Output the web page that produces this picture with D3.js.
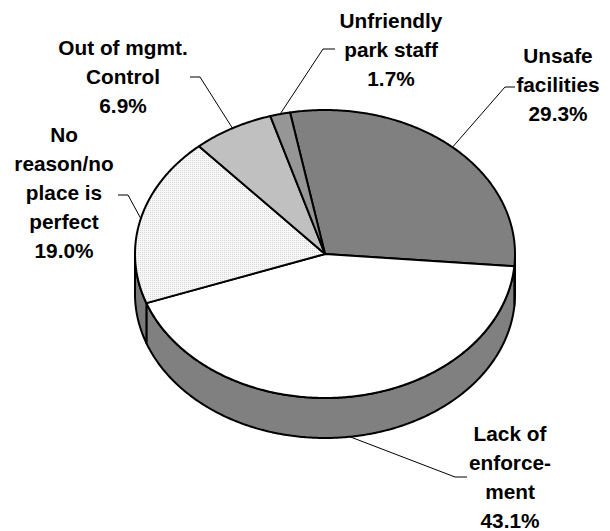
<!DOCTYPE html>
<html>
<head>
<meta charset="utf-8">
<script src="https://cdn.jsdelivr.net/npm/d3@7"></script>
<style>
  html, body { margin: 0; padding: 0; background: #fff; }
  svg { display: block; }
  text { font-family: "Liberation Sans", Arial, sans-serif; font-weight: bold; font-size: 20.8px; fill: #000; }
</style>
</head>
<body>
<div id="chart"></div>
<script>
// slice data, clockwise from the top of the pie
const categories = ['Unsafe facilities', 'Lack of enforcement', 'No reason/no place is perfect', 'Out of mgmt. Control', 'Unfriendly park staff'];
const values = [29.3, 43.1, 19.0, 6.9, 1.7];
const labelLines = [
  ['Unsafe', 'facilities'],
  ['Lack of', 'enforce-', 'ment'],
  ['No', 'reason/no', 'place is', 'perfect'],
  ['Out of mgmt.', 'Control'],
  ['Unfriendly', 'park staff']
];

const width = 610, height = 531;
const cx = 325, cy = 254, rx = 190, ry = 144, depth = 40;

const topFill = ['#808080', '#ffffff', 'url(#dots)', '#c0c0c0', '#969696'];
const sideFill = ['#6a6a6a', '#808080', '#7a7a7a', '#9a9a9a', '#777777'];

// label anchor (centre x, first baseline) and leader elbow/end
const labelPos = [
  { x: 558, y: 63, elbow: [505, 87], end: [515, 87] },
  { x: 510, y: 441, elbow: [455, 477], end: [467, 477] },
  { x: 64, y: 142, elbow: [128, 195], end: [118, 195] },
  { x: 123, y: 55, elbow: [200, 77], end: [190, 77] },
  { x: 391, y: 28, elbow: [323, 49], end: [335, 49] }
];
const lineHeight = 29;

const svg = d3.select('#chart').append('svg')
  .attr('width', width)
  .attr('height', height);

const pat = svg.append('defs').append('pattern')
  .attr('id', 'dots')
  .attr('patternUnits', 'userSpaceOnUse')
  .attr('width', 2).attr('height', 2);
pat.append('rect').attr('width', 2).attr('height', 2).attr('fill', '#f8f8f8');
pat.append('rect').attr('width', 1).attr('height', 1).attr('fill', '#d6d6d6');

// d3.pie angles start at 12 o'clock; convert to ellipse parameter (0 = 3 o'clock)
const pie = d3.pie().sort(null).startAngle(-0.185).endAngle(-0.185 + 2 * Math.PI);
const arcs = pie(values).map((d, i) => ({
  ...d, i,
  a0: d.startAngle - Math.PI / 2,
  a1: d.endAngle - Math.PI / 2
}));

const pt = (t, dy = 0) => [cx + rx * Math.cos(t), cy + ry * Math.sin(t) + dy];
const sample = (a, b, dy = 0) => {
  const n = Math.max(2, Math.ceil(Math.abs(b - a) / 0.01));
  return d3.range(n + 1).map(k => pt(a + (b - a) * k / n, dy));
};
const line = d3.line();

const gSide = svg.append('g');
const gTop = svg.append('g');

// front side walls: parts of each slice with angle in [0, PI] (mod 2PI)
arcs.forEach(d => {
  [0, 2 * Math.PI, -2 * Math.PI].forEach(off => {
    const s = Math.max(d.a0, off), e = Math.min(d.a1, off + Math.PI);
    if (e <= s) return;
    const pts = sample(s, e).concat(sample(e, s, depth));
    gSide.append('path')
      .attr('d', line(pts) + 'Z')
      .attr('fill', sideFill[d.i])
      .attr('stroke', '#000')
      .attr('stroke-width', 2)
      .attr('stroke-linejoin', 'round');
  });
});

// top faces
gTop.selectAll('path')
  .data(arcs)
  .join('path')
  .attr('d', d => line([[cx, cy]].concat(sample(d.a0, d.a1))) + 'Z')
  .attr('fill', d => topFill[d.i])
  .attr('stroke', '#000')
  .attr('stroke-width', 2)
  .attr('stroke-linejoin', 'round');

// leader lines
const gLead = svg.append('g');
arcs.forEach(d => {
  const m = (d.a0 + d.a1) / 2;
  const front = Math.sin(m) > 0;
  const p = pt(m, front ? depth : 0);
  const lp = labelPos[d.i];
  gLead.append('path')
    .attr('d', line([p, lp.elbow, lp.end]))
    .attr('fill', 'none')
    .attr('stroke', '#000')
    .attr('stroke-width', 1);
});

// labels
const gLab = svg.append('g');
arcs.forEach(d => {
  const lp = labelPos[d.i];
  const lines = labelLines[d.i].concat([d3.format('.1f')(d.data) + '%']);
  const t = gLab.append('text')
    .attr('text-anchor', 'middle')
    .attr('x', lp.x)
    .attr('y', lp.y);
  lines.forEach((s, k) => {
    t.append('tspan')
      .attr('x', lp.x)
      .attr('dy', k === 0 ? 0 : lineHeight)
      .text(s);
  });
});
</script>
</body>
</html>
